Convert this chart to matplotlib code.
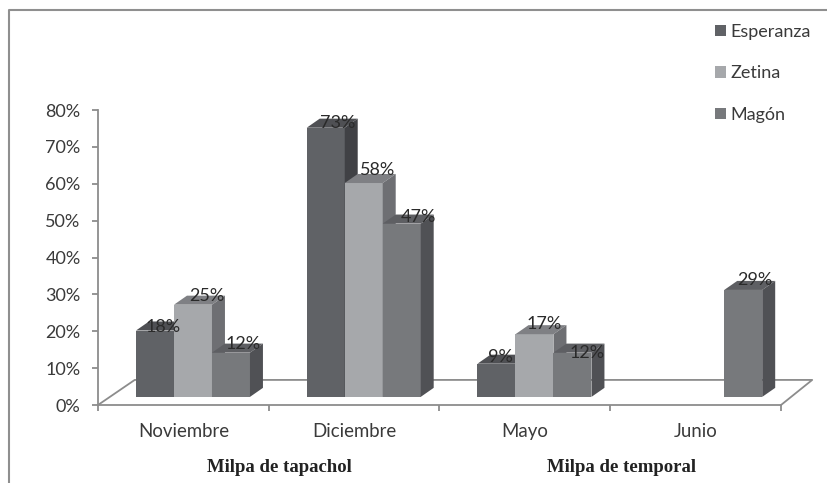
import numpy as np
import matplotlib
matplotlib.use('Agg')
import matplotlib.pyplot as plt
from matplotlib.patches import Patch
from matplotlib.lines import Line2D

meses = ['Noviembre', 'Diciembre', 'Mayo', 'Junio']
esperanza = [18, 73, 9, np.nan]
zetina = [25, 58, 17, np.nan]
magon = [12, 47, 12, 29]
yticks = [0, 10, 20, 30, 40, 50, 60, 70, 80]

series = [
    ('Esperanza', esperanza, '#606266', '#4f5054', '#404145'),
    ('Zetina', zetina, '#a6a8ab', '#7f8084', '#6e6f73'),
    ('Magón', magon, '#77797c', '#5e5f63', '#505155'),
]

# hand placed value labels: pixel shift per series and month
ajustes = [
    [(-3.5, -2), (0, -1), (-8, 1), (0, 0)],
    [(2, 3), (2, 7), (-2, 5), (0, 0)],
    [(0, 3), (5, 1), (3, -6), (0, 4)],
]

W, H = 828, 483
GRIS = '#8c8c8c'
TEXTO = '#3a3a3a'
plt.rcParams['font.family'] = ['Lato', 'DejaVu Sans']

fig = plt.figure(figsize=(W / 100, H / 100), dpi=100)
ax = fig.add_axes([98 / W, 1 - 405 / H, (781 - 98) / W, (405 - 110) / H])
ax.set_xlim(0, 4)
ax.set_ylim(0, 80)
ax.patch.set_alpha(0)

# bar geometry in data units: width, floor offset and extrusion depth
ancho = 0.2225
inicio = 0.2225
base = 2.2
dx = 0.076
dy = 2.45

# floor of the pseudo 3D plot
fx = 0.215
fy = 6.8
ax.plot([0, fx, 4 + fx * 0.85, 4], [0, fy, fy, 0], color=GRIS, lw=1.3, clip_on=False, zorder=1)

z = 2
for i, (nombre, valores, frente, arriba, lado) in enumerate(series):
    for j, v in enumerate(valores):
        if np.isnan(v):
            continue
        x0 = j + inicio + i * ancho
        x1 = x0 + ancho
        top = base + v
        ax.bar(x0, v, width=ancho, bottom=base, align='edge', color=frente, linewidth=0, zorder=z)
        ax.fill([x0, x1, x1 + dx, x0 + dx], [top, top, top + dy, top + dy], color=arriba, lw=0, zorder=z, clip_on=False)
        ax.fill([x1, x1 + dx, x1 + dx, x1], [base, base + dy, top + dy, top], color=lado, lw=0, zorder=z, clip_on=False)
        z += 1

# value labels sit over the bar tops
for i, (nombre, valores, frente, arriba, lado) in enumerate(series):
    for j, v in enumerate(valores):
        if np.isnan(v):
            continue
        xc = j + inicio + (i + 0.5) * ancho
        ox, oy = ajustes[i][j]
        ax.annotate('%d%%' % v, (xc, base + v), xytext=(8.5 + ox * 0.72, 4 + oy * 0.72), textcoords='offset points',
                    ha='center', va='center', fontsize=13, color='#2a2a2a', zorder=50, annotation_clip=False)

ax.set_yticks(yticks)
ax.set_yticklabels(['%d%%' % t for t in yticks], fontsize=13, color=TEXTO)
ax.set_xticks(range(5))
ax.set_xticklabels([])
ax.tick_params(axis='both', color=GRIS, width=1.3, length=4.5)
ax.tick_params(axis='y', pad=8)
for s in ['top', 'right']:
    ax.spines[s].set_visible(False)
for s in ['left', 'bottom']:
    ax.spines[s].set_color(GRIS)
    ax.spines[s].set_linewidth(1.3)

for j, mes in enumerate(meses):
    ax.annotate(mes, (j + 0.5, 0), xytext=(0, -22.8), textcoords='offset points', ha='center', va='baseline',
                fontsize=13.4, color=TEXTO, annotation_clip=False)

# season groups under the months
for xc, rotulo in [(1.063, 'Milpa de tapachol'), (3.066, 'Milpa de temporal')]:
    ax.annotate(rotulo, (xc, 0), xytext=(0, -48), textcoords='offset points', ha='center', va='baseline',
                fontsize=13.5, fontweight='bold', family='Liberation Serif', color='#222222', annotation_clip=False)

handles = [Patch(facecolor=s[2], edgecolor='none') for s in series]
fig.legend(handles, [s[0] for s in series], loc='upper left', bbox_to_anchor=(715 / W, 1 - 24 / H),
           frameon=False, fontsize=13, labelcolor=TEXTO, handlelength=0.62, handleheight=0.62,
           handletextpad=0.23, labelspacing=1.41, borderpad=0, borderaxespad=0)

# chart frame, open at the right and bottom of the page
fig.add_artist(Line2D([9 / W, 9 / W, 1], [0, 1 - 10 / H, 1 - 10 / H], color='#8f8f8f', lw=1.5))

fig.savefig('out.png', dpi=100)
